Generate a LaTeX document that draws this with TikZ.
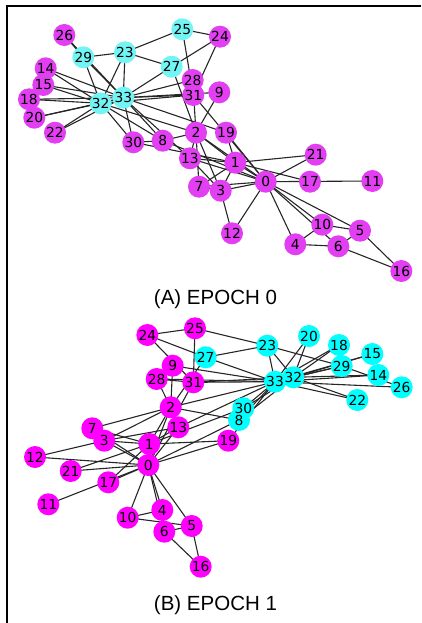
\documentclass[tikz,border=0pt]{standalone}
\usepackage{fontspec}
\setmainfont{Liberation Sans}
\newfontfamily\dejavu{DejaVu Sans}
\usetikzlibrary{backgrounds}
\definecolor{magA}{HTML}{E23EF2}
\definecolor{cyaA}{HTML}{72F4F4}
\definecolor{magB}{HTML}{FF00FF}
\definecolor{cyaB}{HTML}{00FFFF}
\tikzset{
  vtx/.style={circle,inner sep=0pt,minimum size=22pt},
  lbl/.style={font=\dejavu\fontsize{13.8}{14}\selectfont,inner sep=0pt},
  edge/.style={line width=1.1pt,black!85},
  ttl/.style={font=\fontsize{20.5}{21}\selectfont,inner sep=0pt},
  frm/.style={line width=1.2pt,black}
}
\def\edgelist{0/1,0/2,0/3,0/4,0/5,0/6,0/7,0/8,0/10,0/11,0/12,0/13,0/17,0/19,0/21,0/31,
1/2,1/3,1/7,1/13,1/17,1/19,1/21,1/30,
2/3,2/7,2/8,2/9,2/13,2/27,2/28,2/32,
3/7,3/12,3/13,4/6,4/10,5/6,5/10,5/16,6/16,
8/30,8/32,8/33,9/33,13/33,
14/32,14/33,15/32,15/33,18/32,18/33,19/33,20/32,20/33,22/32,22/33,
23/25,23/27,23/29,23/32,23/33,24/25,24/27,24/31,25/31,26/29,26/33,
27/33,28/31,28/33,29/32,29/33,30/32,30/33,31/32,31/33,32/33}
\begin{document}
\begin{tikzpicture}[x=1pt,y=-1pt]
\useasboundingbox (0,0) rectangle (421,623);
\draw[frm] (7,623) -- (7,6) -- (421,6);
% ---- Epoch 0 ----
\foreach \i/\x/\y/\c in {
0/265.7/181.7/magA, 1/235.3/162.7/magA, 2/196/132.7/magA, 3/220.7/190.7/magA,
4/295.3/244.3/magA, 5/360/230.7/magA, 6/338.3/246.3/magA, 7/199/186.7/magA,
8/162.7/140.7/magA, 9/219.3/92.3/magA, 10/322.3/224.7/magA, 11/372.3/181/magA,
12/232/233.3/magA, 13/190/158.3/magA, 14/45.7/68.3/magA, 15/43.3/85/magA,
16/401.3/271/magA, 17/310/181.7/magA, 18/29/99.3/magA, 19/226/132.7/magA,
20/34.3/117.7/magA, 21/315.7/154.7/magA, 22/55/132.7/magA, 23/125/52.3/cyaA,
24/220/36.7/magA, 25/182.3/29.3/cyaA, 26/64.3/35/magA, 27/171.7/66.7/cyaA,
28/192.7/80/magA, 29/83.3/57.3/cyaA, 30/133.3/142.3/magA, 31/193.3/95/magA,
32/100.7/103.3/cyaA, 33/123.3/97.7/cyaA}
  {\node[vtx,fill=\c] (a\i) at (\x,\y) {};}
% ---- Epoch 1 ----
\foreach \i/\x/\y/\c in {
0/148.3/465/magB, 1/149.3/444/magB, 2/170.7/407.3/magB, 3/104.3/440.7/magB,
4/162.3/510/magB, 5/191.7/526/magB, 6/164.3/531.7/magB, 7/92.3/428.3/magB,
8/239/420/cyaB, 9/172.7/365.7/magB, 10/127.7/517.7/magB, 11/48.3/504.3/magB,
12/35/457/magB, 13/178.3/427.3/magB, 14/378.3/375/cyaB, 15/372.3/354/cyaB,
16/200.7/566.7/magB, 17/108.3/482.3/magB, 18/339/345/cyaB, 19/228.3/440.7/magB,
20/309/336/cyaB, 21/70.7/471/magB, 22/357.3/400/cyaB, 23/267.3/345.7/cyaB,
24/147.3/335/magB, 25/195/328.3/magB, 26/401.7/387.3/cyaB, 27/205.7/357.3/cyaB,
28/156.7/379/magB, 29/341.7/366/cyaB, 30/243.3/408.3/cyaB, 31/193.3/382.3/magB,
32/293.3/377.3/cyaB, 33/275/381.7/cyaB}
  {\node[vtx,fill=\c] (b\i) at (\x,\y) {};}
\begin{pgfonlayer}{background}
  \foreach \u/\v in \edgelist {
    \draw[edge] (a\u.center) -- (a\v.center);
    \draw[edge] (b\u.center) -- (b\v.center);
  }
\end{pgfonlayer}
\foreach \i in {0,...,33} {
  \node[lbl] (la\i) at (a\i) {\i};
  \node[lbl] (lb\i) at (b\i) {\i};
}
\node[ttl] (ta) at (215.5,299.5) {(A) EPOCH 0};
\node[ttl] (tb) at (215.5,605.5) {(B) EPOCH 1};
\end{tikzpicture}
\end{document}
